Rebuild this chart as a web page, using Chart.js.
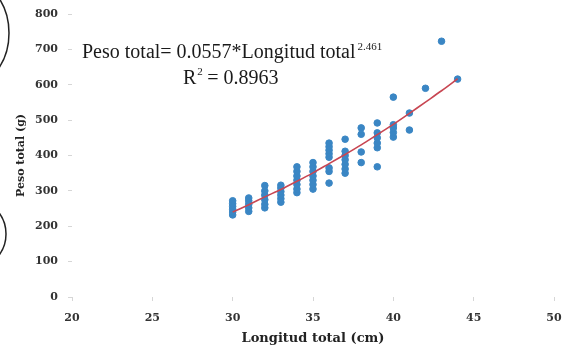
<!DOCTYPE html>
<html>
<head>
<meta charset="utf-8">
<script src="https://cdn.jsdelivr.net/npm/chart.js@4"></script>
<style>
  html, body { margin: 0; padding: 0; background: #fff; }
  #wrap { width: 562px; height: 352px; }
</style>
</head>
<body>
<div id="wrap"><canvas id="myChart" width="562" height="352"></canvas></div>
<script>
// observed length (cm) and weight (g), one list per length class
let lengths = [30, 31, 32, 33, 34, 35, 36, 37, 38, 39, 40, 41, 42, 43, 44];
let weights = [
  [232, 240, 248, 256, 264, 272],
  [242, 252, 262, 272, 280],
  [252, 262, 275, 288, 300, 315],
  [268, 278, 288, 298, 308, 316],
  [295, 305, 318, 330, 342, 355, 368],
  [305, 318, 330, 342, 355, 368, 380],
  [322, 355, 365, 395, 405, 415, 425, 435],
  [350, 362, 375, 388, 400, 412, 446],
  [380, 410, 460, 478],
  [368, 422, 435, 450, 464, 492],
  [452, 465, 478, 487, 565],
  [472, 520],
  [590],
  [723],
  [616]
];
// fitted curve
let fitX = [30, 31, 32, 33, 34, 35, 36, 37, 38, 39, 40, 41, 42, 43, 44];
let fitY = [240, 261, 283, 304, 327, 351, 377, 403, 430, 459, 488, 519, 551, 583, 617];
let xTicks = [20, 25, 30, 35, 40, 45, 50];
let yTicks = [0, 100, 200, 300, 400, 500, 600, 700, 800];

let points = [];
for (let i = 0; i < lengths.length; i++) {
  for (let j = 0; j < weights[i].length; j++) {
    points.push({ x: lengths[i], y: weights[i][j] });
  }
}
let fitPoints = [];
for (let i = 0; i < fitX.length; i++) {
  fitPoints.push({ x: fitX[i], y: fitY[i] });
}

const tickFont = { family: "DejaVu Serif", size: 11, weight: "bold" };

const annotate = {
  id: "annotate",
  afterDraw(chart) {
    const ctx = chart.ctx;
    ctx.save();
    // scan edge arcs on the left
    ctx.strokeStyle = "#222";
    ctx.lineWidth = 1.5;
    ctx.beginPath();
    ctx.ellipse(-30, 33, 39, 52, 0, -Math.PI / 2, Math.PI / 2);
    ctx.stroke();
    ctx.beginPath();
    ctx.ellipse(-26, 234, 32, 34, 0, -Math.PI / 2, Math.PI / 2);
    ctx.stroke();
    // equation
    ctx.fillStyle = "#1a1a1a";
    ctx.textBaseline = "alphabetic";
    ctx.font = "20px 'Liberation Serif'";
    const eq = "Peso total= 0.0557*Longitud total";
    ctx.fillText(eq, 82, 58);
    const w = ctx.measureText(eq).width;
    ctx.font = "11px 'Liberation Serif'";
    ctx.fillText("2.461", 82 + w + 2, 50);
    ctx.font = "20px 'Liberation Serif'";
    ctx.fillText("R", 183, 84);
    const rw = ctx.measureText("R").width;
    ctx.font = "11px 'Liberation Serif'";
    ctx.fillText("2", 183 + rw + 1, 75);
    ctx.font = "20px 'Liberation Serif'";
    ctx.fillText(" = 0.8963", 183 + rw + 6, 84);
    ctx.restore();
  }
};

new Chart(document.getElementById("myChart"), {
  type: "scatter",
  data: {
    datasets: [
      {
        label: "Peso",
        data: points,
        backgroundColor: "rgb(58, 134, 196)",
        borderColor: "rgb(58, 134, 196)",
        pointRadius: 3.3,
        order: 2
      },
      {
        label: "Ajuste",
        data: fitPoints,
        showLine: true,
        borderColor: "rgb(200, 70, 82)",
        borderWidth: 1.6,
        pointRadius: 0,
        tension: 0.3,
        order: 1
      }
    ]
  },
  options: {
    responsive: false,
    animation: { duration: 0 },
    layout: { padding: { top: 14, right: 8, left: 0, bottom: 0 } },
    plugins: { legend: { display: false }, tooltip: { enabled: false } },
    scales: {
      x: {
        type: "linear",
        min: 20,
        max: 50,
        afterFit: function (scale) {
          scale.height = 55;
          scale.paddingRight = 0;
          scale.paddingLeft = 0;
        },
        afterBuildTicks: function (scale) { scale.ticks = xTicks.map(v => ({ value: v })); },
        grid: { drawOnChartArea: false, drawTicks: true, tickLength: 4, color: "#d6d6d6" },
        border: { display: false },
        ticks: { font: tickFont, color: "#333", padding: 11 },
        title: {
          display: true,
          text: "Longitud total (cm)",
          font: { family: "DejaVu Serif", size: 13, weight: "bold" },
          color: "#222",
          padding: { top: 0, bottom: 6 }
        }
      },
      y: {
        min: 0,
        max: 800,
        afterFit: function (scale) {
          scale.width = 72;
          scale.paddingTop = 0;
          scale.paddingBottom = 0;
        },
        afterBuildTicks: function (scale) { scale.ticks = yTicks.map(v => ({ value: v })); },
        grid: { drawOnChartArea: false, drawTicks: true, tickLength: 4, color: "#d6d6d6" },
        border: { display: false },
        ticks: { font: tickFont, color: "#333", padding: 10 },
        title: {
          display: true,
          text: "Peso total (g)",
          font: { family: "DejaVu Serif", size: 11, weight: "bold" },
          color: "#222",
          padding: { top: 15, bottom: 0 }
        }
      }
    }
  },
  plugins: [annotate]
});
</script>
</body>
</html>
